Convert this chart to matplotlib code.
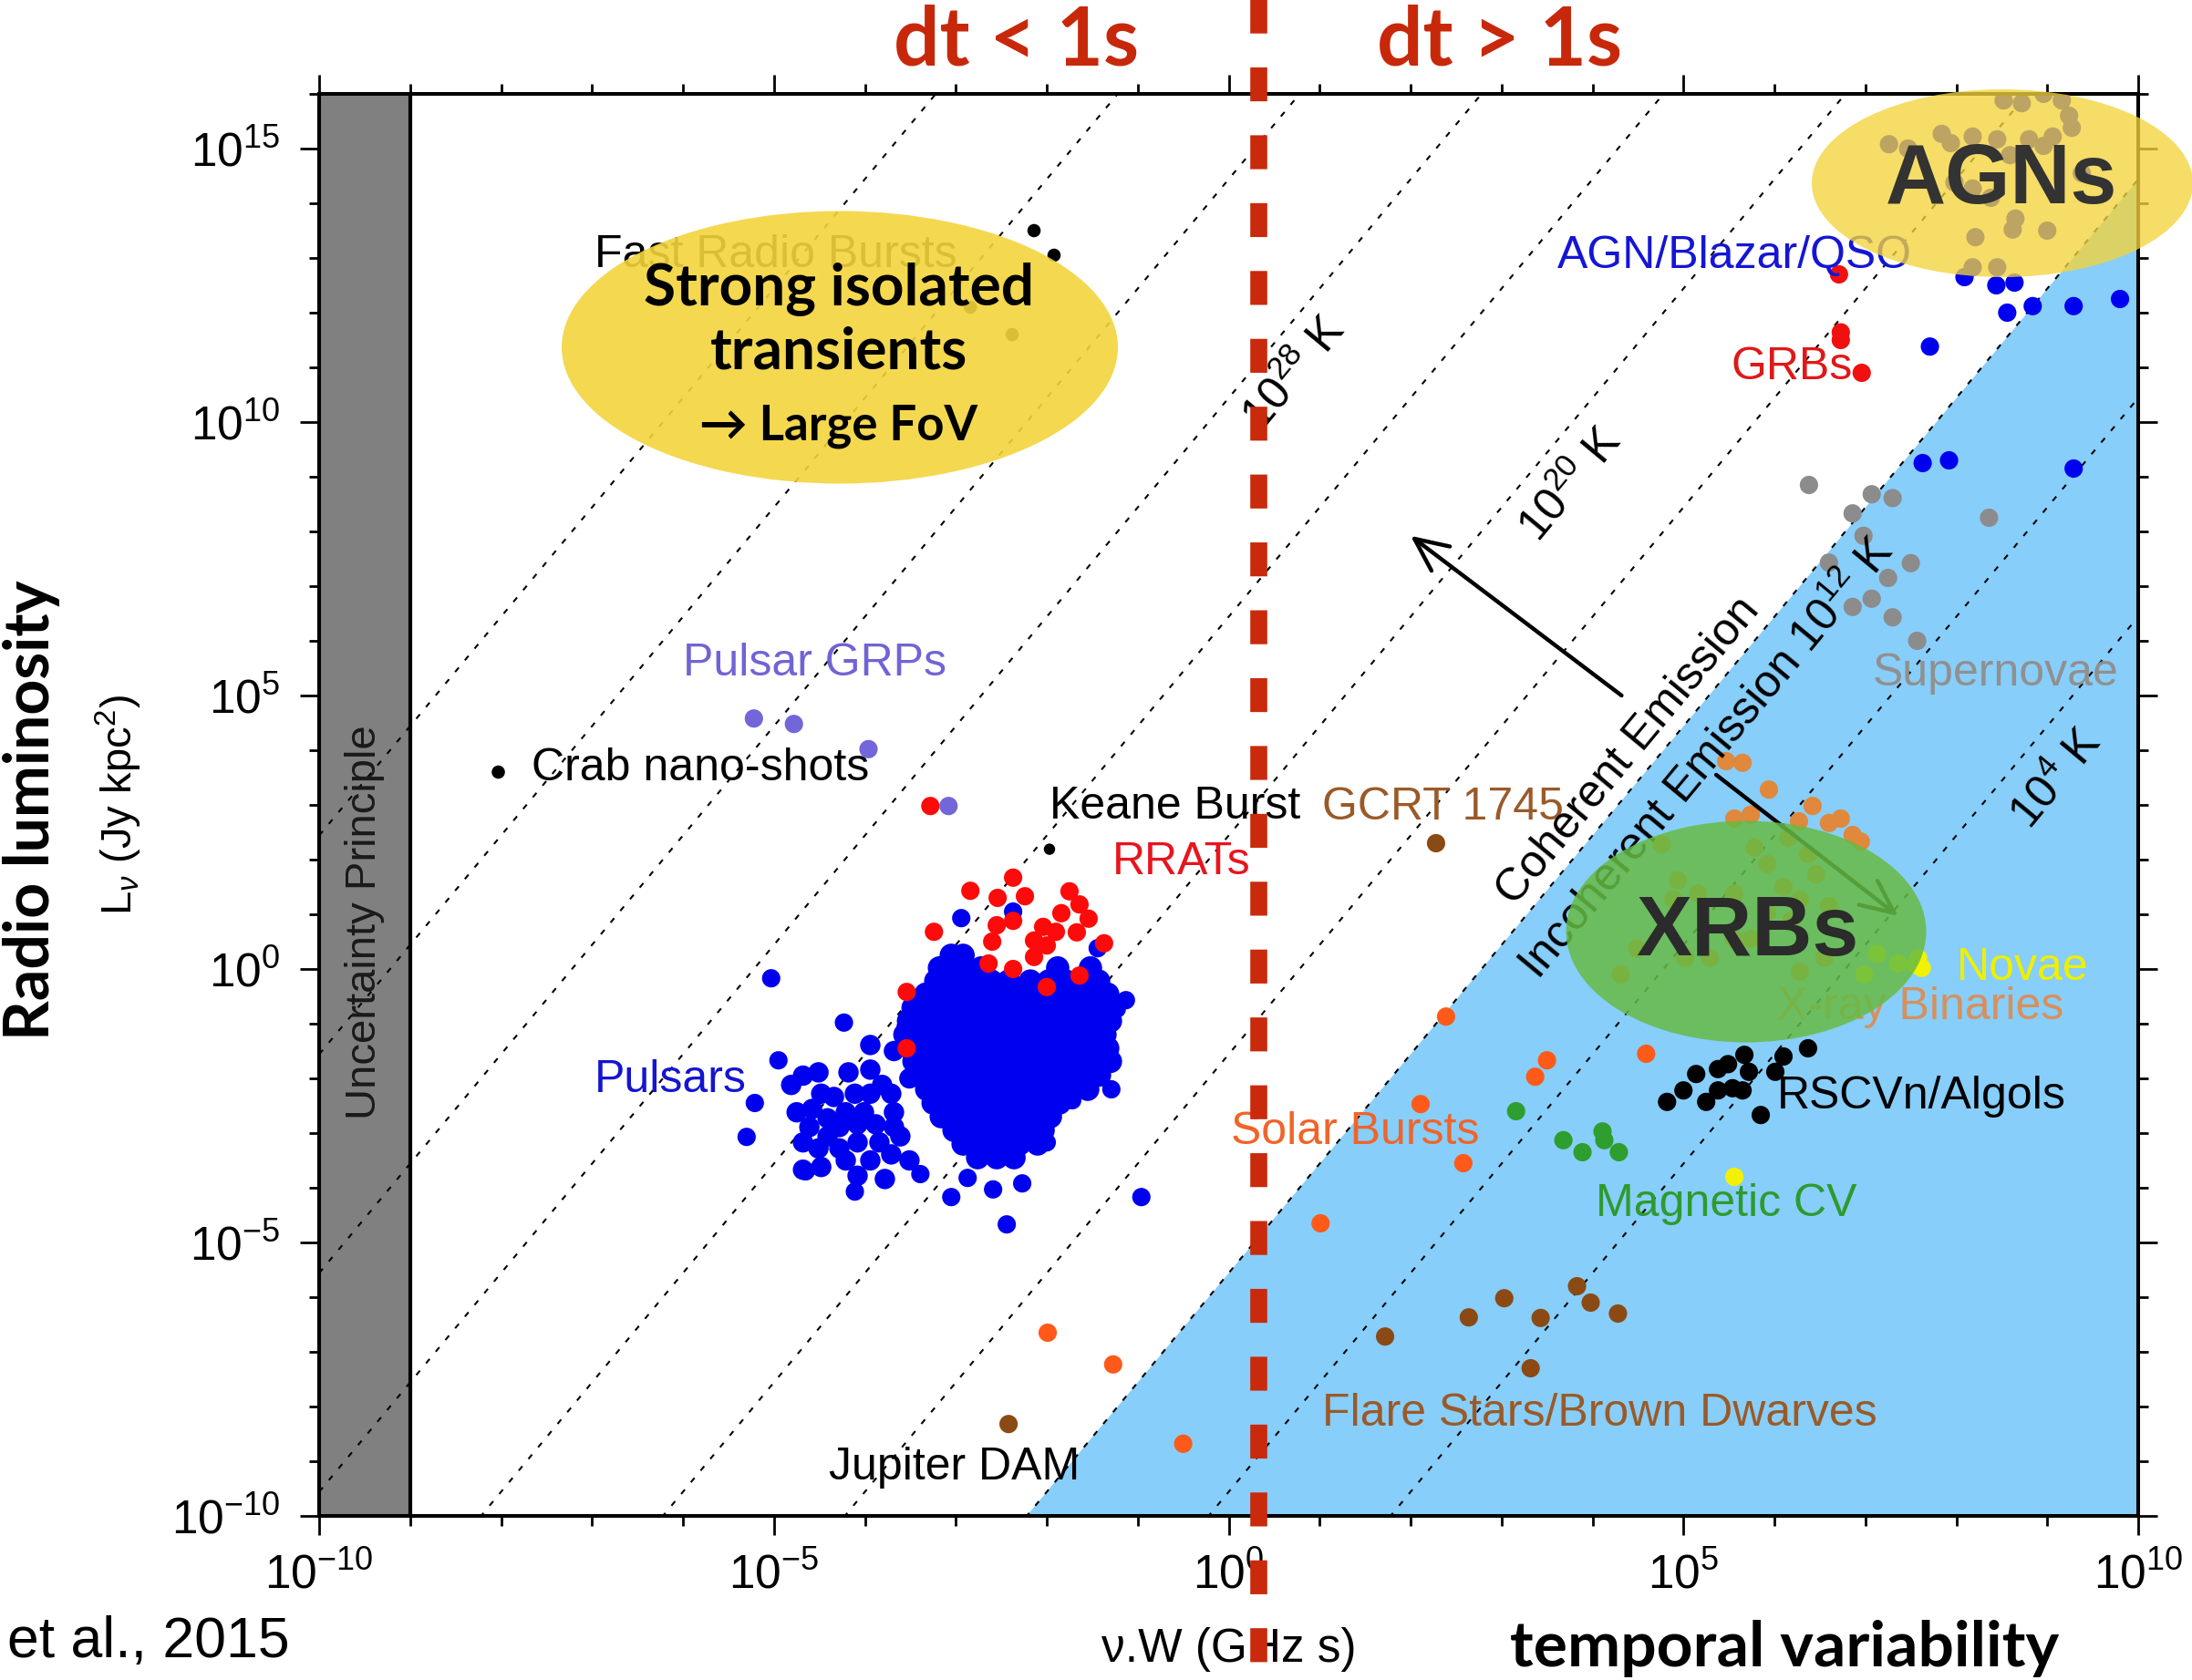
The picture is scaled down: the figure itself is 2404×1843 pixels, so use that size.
import numpy as np
import matplotlib
matplotlib.use("Agg")
import matplotlib.pyplot as plt
from matplotlib.patches import Ellipse
from matplotlib.ticker import NullFormatter

plt.rcParams['font.family'] = ['Liberation Sans', 'DejaVu Sans']
plt.rcParams['mathtext.fontset'] = 'custom'
plt.rcParams['mathtext.rm'] = 'Liberation Sans'
plt.rcParams['mathtext.it'] = 'Liberation Sans:italic'
plt.rcParams['mathtext.bf'] = 'Liberation Sans:bold'

W, H = 2404, 1843

# --- data: (log10 nu*W [GHz s], log10 L [Jy kpc^2]) ---
frb = [(-2.14, 13.5), (-1.92, 13.05), (-2.84, 12.1), (-2.38, 11.6)]
crab = [(-8.03, 3.6)]
keane = [(-1.97, 2.19)]
jupiter = [(-2.42, -8.32)]
gcrt = [(2.28, 2.30)]
grps = [(-5.22, 4.58), (-4.78, 4.48), (-3.96, 4.02), (-3.08, 2.98)]
rrats = [(-2.84, 1.43), (-2.37, 1.67), (-2.54, 1.30), (-2.24, 1.33), (-3.24, 0.68),
         (-1.75, 1.42), (-1.64, 1.18), (-1.84, 1.02), (-1.54, 0.92), (-2.55, 0.80),
         (-2.37, 0.88), (-2.04, 0.77), (-1.90, 0.68), (-2.60, 0.50), (-2.14, 0.52),
         (-2.00, 0.43), (-1.67, 0.67), (-1.37, 0.47), (-2.64, 0.10), (-2.37, 0.00),
         (-2.14, 0.22), (-1.64, -0.12), (-2.00, -0.33), (-3.54, -0.42), (-3.54, -1.45),
         (-3.28, 2.98)]
# dense pulsar core, one row per luminosity level
pulsar_rows = [
    (0.25, [-3.05, -2.92]),
    (0.02, [-3.18, -2.95, -2.72, -1.88, -1.52]),
    (-0.22, [-3.22, -3.02, -2.83, -2.61, -2.42, -2.18, -1.98, -1.79, -1.60, -1.43]),
    (-0.46, [-3.33, -3.12, -2.90, -2.71, -2.50, -2.31, -2.12, -1.90, -1.72, -1.50, -1.33]),
    (-0.71, [-3.47, -3.26, -3.06, -2.86, -2.64, -2.45, -2.24, -2.06, -1.84, -1.65, -1.44, -1.27]),
    (-0.95, [-3.52, -3.31, -3.10, -2.90, -2.70, -2.49, -2.31, -2.10, -1.89, -1.70, -1.49, -1.30]),
    (-1.20, [-3.56, -3.36, -3.14, -2.95, -2.74, -2.56, -2.35, -2.14, -1.96, -1.74, -1.55, -1.36]),
    (-1.45, [-3.50, -3.30, -3.11, -2.90, -2.70, -2.50, -2.31, -2.10, -1.90, -1.71, -1.50, -1.33]),
    (-1.69, [-3.46, -3.24, -3.05, -2.85, -2.66, -2.44, -2.25, -2.05, -1.86, -1.64, -1.45, -1.30]),
    (-1.94, [-3.41, -3.20, -3.00, -2.81, -2.60, -2.40, -2.21, -2.00, -1.80, -1.60, -1.42]),
    (-2.20, [-3.32, -3.10, -2.91, -2.70, -2.51, -2.30, -2.10, -1.90, -1.70, -1.55]),
    (-2.45, [-3.25, -3.05, -2.84, -2.65, -2.45, -2.26, -2.05, -1.86]),
    (-2.70, [-3.16, -2.95, -2.76, -2.55, -2.35, -2.16, -1.96]),
    (-2.95, [-3.02, -2.81, -2.60, -2.41, -2.20, -2.04]),
    (-3.20, [-2.92, -2.70, -2.50, -2.30, -2.10]),
    (-3.45, [-2.76, -2.55, -2.36]),
]
pulsar_tail = [(-4.81, -2.12), (-4.68, -1.95), (-4.51, -1.89), (-4.75, -2.62), (-4.58, -2.56),
               (-4.68, -3.17), (-4.51, -3.28), (-4.28, -2.89), (-4.18, -1.89), (-4.11, -2.28),
               (-3.94, -1.39), (-3.94, -1.84), (-3.81, -2.12), (-3.71, -2.28), (-3.68, -2.62),
               (-3.88, -2.84), (-4.08, -3.17), (-3.71, -3.39), (-3.61, -3.06), (-4.41, -2.73),
               (-4.21, -3.50), (-4.48, -3.62), (-3.94, -3.50), (-4.08, -3.78), (-4.34, -2.34),
               (-3.78, -3.84), (-3.51, -3.50), (-4.68, -3.67), (-4.61, -2.89), (-4.21, -2.62),
               (-4.01, -2.62), (-4.41, -3.06), (-4.28, -3.28), (-3.84, -3.17), (-3.68, -2.89),
               (-4.08, -2.84), (-4.48, -2.28), (-3.94, -2.28), (-3.54, -1.06), (-3.68, -1.50),
               (-3.51, -2.00)]
pulsar_out = [(-5.03, -0.17), (-4.23, -0.98), (-4.95, -1.67), (-5.21, -2.45), (-5.30, -3.07),
              (-2.94, 0.93), (-1.13, -0.57), (-1.23, -0.73), (-1.29, -2.20), (-0.96, -4.17),
              (-2.44, -4.67), (-3.05, -4.17), (-4.11, -4.07), (-4.65, -3.70), (-1.72, -2.40),
              (-2.00, -3.17), (-2.27, -3.92), (-2.59, -4.03), (-2.87, -3.82), (-3.39, -3.75),
              (-1.44, 0.38), (-2.37, 1.05)]
solar = [(-1.99, -6.65), (-1.27, -7.23), (-0.50, -8.68), (1.01, -4.65), (2.11, -2.47),
         (2.39, -0.87), (2.58, -3.55), (3.37, -1.97), (3.50, -1.67), (4.59, -1.55)]
flare = [(1.72, -6.72), (2.64, -6.37), (3.03, -6.02), (3.43, -6.38), (3.83, -5.80),
         (3.98, -6.10), (4.28, -6.30), (3.32, -7.30)]
mcv = [(3.16, -2.60), (3.68, -3.13), (3.89, -3.35), (4.11, -2.97), (4.13, -3.13), (4.29, -3.35)]
novae = [(5.56, -3.80), (7.13, 0.28), (7.36, 0.10), (7.58, 0.20), (7.62, 0.02), (6.99, -0.10),
         (7.55, 0.08)]
xrb = [(5.47, 3.80), (5.65, 3.77), (5.94, 3.28), (6.42, 2.98), (6.73, 2.75), (5.56, 2.75),
       (5.74, 2.82), (6.27, 2.70), (6.60, 2.67), (6.86, 2.45), (6.95, 2.33), (4.76, 2.28),
       (4.94, 1.62), (4.89, 1.27), (5.16, 1.38), (5.78, 2.22), (5.92, 1.92), (6.15, 2.40),
       (6.37, 2.10), (6.46, 1.73), (6.10, 1.50), (6.28, 1.27), (6.60, 1.15), (5.92, 1.03),
       (5.74, 0.55), (5.56, 0.55), (4.49, 0.37), (4.31, -0.10), (5.02, 0.20), (5.29, 0.20),
       (6.28, -0.05), (6.55, 0.20), (6.19, 0.90), (5.56, 1.38)]
rscvn = [(4.82, -2.43), (5.00, -2.22), (5.14, -1.92), (5.25, -2.43), (5.38, -1.83),
         (5.49, -1.74), (5.54, -2.18), (5.67, -1.57), (5.72, -1.88), (5.65, -2.22),
         (5.85, -2.67), (6.01, -1.88), (6.10, -1.60), (6.37, -1.45), (5.38, -2.22)]
supernovae = [(6.38, 8.85), (7.07, 8.68), (7.30, 8.61), (6.86, 8.33), (8.36, 8.25), (6.98, 7.92),
              (7.50, 7.42), (7.25, 7.15), (6.60, 7.43), (6.86, 6.62), (7.07, 6.77), (7.30, 6.43),
              (7.57, 6.00)]
grbs = [(6.71, 12.70), (6.73, 11.64), (6.73, 11.50), (6.96, 10.90)]
agn = [(7.71, 11.38), (8.56, 12.00), (8.84, 12.12), (9.29, 12.12), (8.09, 12.65), (8.44, 12.50),
       (8.64, 12.55), (7.63, 9.25), (7.92, 9.30), (9.29, 9.15), (9.80, 12.25),
       (7.26, 15.08), (7.47, 15.00), (7.84, 15.27), (7.94, 15.10), (8.18, 15.22), (8.45, 15.17),
       (8.52, 15.88), (8.72, 15.83), (8.96, 16.00), (9.16, 15.88), (9.24, 15.60), (9.27, 15.38),
       (9.06, 15.22), (8.80, 15.17), (8.18, 14.27), (8.38, 14.10), (8.65, 13.72), (8.21, 13.38),
       (8.62, 13.52), (9.00, 13.50), (8.18, 12.83), (8.45, 12.83), (9.38, 14.55), (7.98, 14.38),
       (8.59, 14.88), (8.96, 15.05)]

# brightness temperature lines: log L = 2 log(nu W) + log T - 17.56
t_exp = [4, 8, 12, 16, 20, 24, 28, 32, 36, 40]
t_offset = -17.56
coherence_t = 12

x_major = [-10, -5, 0, 5, 10]
y_major = [-10, -5, 0, 5, 10, 15]

fig = plt.figure(figsize=(W / 100, H / 100), dpi=100)
ax = fig.add_axes([350 / W, 1 - 1663 / H, 1995 / W, 1560 / H])
ax.set_xscale('log')
ax.set_yscale('log')
ax.set_xlim(1e-10, 1e10)
ax.set_ylim(1e-10, 1e16)


def P(pts):
    a = np.array(pts, dtype=float)
    return 10 ** a[:, 0], 10 ** a[:, 1]


def dots(pts, color, s=210, z=4):
    x, y = P(pts)
    ax.scatter(x, y, s=s, c=color, edgecolors='none', zorder=z)


# incoherent region and uncertainty band
x0 = (-10 - (coherence_t + t_offset)) / 2
ax.fill([10 ** x0, 1e10, 1e10], [1e-10, 1e-10, 10 ** (20 + coherence_t + t_offset)],
        color='#87CEFA', zorder=0.5, lw=0)
ax.axvspan(1e-10, 1e-9, color='#808080', zorder=0.6, lw=0)
ax.axvline(1e-9, color='black', lw=3, zorder=3)

nuw = np.array([1e-10, 1e10])
for t in t_exp:
    ax.plot(nuw, 10 ** (2 * np.log10(nuw) + t + t_offset), color='black', lw=1.5,
            ls=(0, (3, 5)), zorder=2)

# pulsar core expanded from rows
core = [(x, l) for l, xs in pulsar_rows for x in xs]
dots(core, '#0000F0', s=340)
dots(pulsar_tail, '#0000F0', s=260)
dots(pulsar_out, '#0000F0')
dots(rrats, '#FF0A0A', z=5)
dots(grps, '#7366D9')
dots(frb, 'black', s=110)
dots(crab, 'black', s=110)
dots(keane, 'black', s=80)
dots(jupiter, '#8B4A14')
dots(gcrt, '#8B4A14')
dots(solar, '#FF5A1A')
dots(flare, '#8B4A14')
dots(mcv, '#2E9E2E')
dots(xrb, '#E0883C')
dots(novae, '#F2F200')
dots(rscvn, 'black')
dots(supernovae, '#8C8C8C')
dots(grbs, '#F01010')
dots(agn, '#0000F0')

fs = 36
labels = [
    ("Fast Radio Bursts", -6.97, 13.05, 'black'),
    ("Crab nano-shots", -7.66, 3.67, 'black'),
    ("Pulsar GRPs", -6.0, 5.58, '#7064D4'),
    ("Keane Burst", -1.97, 2.97, 'black'),
    ("RRATs", -1.28, 1.95, '#E8141E'),
    ("Pulsars", -6.97, -2.03, '#1414D2'),
    ("Jupiter DAM", -4.40, -9.12, 'black'),
    ("Solar Bursts", 0.03, -2.98, '#F0642A'),
    ("GCRT 1745", 1.03, 2.95, '#9A5A28'),
    ("Flare Stars/Brown Dwarves", 1.03, -8.13, '#9A5A28'),
    ("Magnetic CV", 4.04, -4.30, '#2E9A2E'),
    ("RSCVn/Algols", 6.03, -2.33, 'black'),
    ("X-ray Binaries", 6.03, -0.70, '#D8905A'),
    ("Novae", 8.0, 0.02, '#EEF000'),
    ("Supernovae", 7.08, 5.40, '#909090'),
    ("GRBs", 5.52, 11.0, '#E01818'),
    ("AGN/Blazar/QSO", 3.61, 13.03, '#1515D5'),
]
for txt, lx, ly, c in labels:
    ax.text(10 ** lx, 10 ** ly, txt, color=c, fontsize=fs, ha='left', va='center', zorder=6)

ax.text(10 ** -9.5, 10 ** 0.85, "Uncertainty Principle", rotation=90, fontsize=34,
        ha='center', va='center', color='#1a1a1a', zorder=6)

ang = 50.3
ax.text(10 ** 0.73, 10 ** 10.88, r"$10^{28}$ K", rotation=ang, rotation_mode='anchor',
        fontsize=fs, ha='center', va='center', zorder=6)
ax.text(10 ** 3.76, 10 ** 8.85, r"$10^{20}$ K", rotation=ang, rotation_mode='anchor',
        fontsize=fs, ha='center', va='center', zorder=6)
ax.text(10 ** 9.11, 10 ** 3.47, r"$10^{4}$ K", rotation=ang, rotation_mode='anchor',
        fontsize=fs, ha='center', va='center', zorder=6)
ax.text(10 ** 4.40, 10 ** 3.98, "Coherent Emission", rotation=ang, rotation_mode='anchor',
        fontsize=fs, ha='center', va='center', zorder=6)
ax.text(10 ** 5.26, 10 ** 3.85, r"Incoherent Emission $10^{12}$ K", rotation=ang,
        rotation_mode='anchor', fontsize=fs, ha='center', va='center', zorder=6)

arrow = dict(arrowstyle='->,head_length=1.3,head_width=0.6', lw=3.2, color='black',
             shrinkA=0, shrinkB=0, mutation_scale=20)
ax.annotate('', xy=(10 ** 2.0, 10 ** 7.92), xytext=(10 ** 4.32, 10 ** 5.0), arrowprops=arrow,
            zorder=6)
ax.annotate('', xy=(10 ** 7.36, 10 ** 0.97), xytext=(10 ** 5.36, 10 ** 3.55), arrowprops=arrow,
            zorder=6)

# axes styling
ax.set_xticks([10.0 ** k for k in x_major], [r'$10^{%d}$' % k for k in x_major])
ax.set_yticks([10.0 ** k for k in y_major], [r'$10^{%d}$' % k for k in y_major])
ax.set_xticks([10.0 ** k for k in range(-10, 11)], minor=True)
ax.set_yticks([10.0 ** k for k in range(-10, 17)], minor=True)
ax.xaxis.set_minor_formatter(NullFormatter())
ax.yaxis.set_minor_formatter(NullFormatter())
ax.tick_params(which='both', direction='out', top=True, right=True, width=2, labelsize=37)
ax.tick_params(which='major', length=15)
ax.tick_params(which='minor', length=8)
ax.tick_params(axis='x', pad=14)
ax.tick_params(axis='y', pad=16)
for sp in ax.spines.values():
    sp.set_linewidth(2.9)
    sp.set_zorder(7)

ax.set_xlabel("ν.W (GHz s)", fontsize=37, va='center')
ax.xaxis.set_label_coords(0.5, -0.094)
ax.set_ylabel(r"L$_\nu$ (Jy kpc$^2$)", fontsize=34, va='center')
ax.yaxis.set_label_coords(-0.110, 0.5)

# dt = 1 s boundary, spanning the whole figure height
ax.plot([10 ** 0.33, 10 ** 0.33], [1.07, -0.12], transform=ax.get_xaxis_transform(),
        clip_on=False, color='#C92A0C', lw=13.4, ls=(0, (2, 2)), solid_capstyle='butt',
        dash_capstyle='butt', zorder=9)


def fx(px):
    return px / W


def fy(py):
    return 1 - py / H


# highlight ellipses
fig.add_artist(Ellipse((fx(921), fy(381)), 610 / W, 299 / H, transform=fig.transFigure,
                       fc='#F3D43C', ec='none', alpha=0.9, zorder=10))
fig.add_artist(Ellipse((fx(2196), fy(201)), 418 / W, 206 / H, transform=fig.transFigure,
                       fc='#F3D43C', ec='none', alpha=0.78, zorder=10))
fig.add_artist(Ellipse((fx(1915), fy(1022)), 395 / W, 243 / H, transform=fig.transFigure,
                       fc='#66BB44', ec='none', alpha=0.85, zorder=10))

bold = ['Lato', 'DejaVu Sans']
fig.text(fx(920), fy(317), "Strong isolated", fontsize=46, fontweight='bold', family=bold,
         ha='center', va='center', zorder=11)
fig.text(fx(920), fy(386), "transients", fontsize=46, fontweight='bold', family=bold,
         ha='center', va='center', zorder=11)
fig.text(fx(920), fy(468), "→ Large FoV", fontsize=38, fontweight='bold', family=bold,
         ha='center', va='center', zorder=11)
fig.text(fx(2195), fy(199), "AGNs", fontsize=66, fontweight='bold', color='#333333',
         ha='center', va='center', zorder=11)
fig.text(fx(1916), fy(1024), "XRBs", fontsize=66, fontweight='bold', color='#2B2B2B',
         ha='center', va='center', zorder=11)

red = '#C8280A'
fig.text(fx(1115), fy(45), "dt < 1s", fontsize=64, fontweight='bold', family=bold,
         color=red, ha='center', va='center')
fig.text(fx(1645), fy(45), "dt > 1s", fontsize=64, fontweight='bold', family=bold,
         color=red, ha='center', va='center')
fig.text(fx(35), fy(889), "Radio luminosity", fontsize=49, fontweight='bold', family=bold,
         rotation=90, ha='center', va='center')
fig.text(fx(1957), fy(1809), "temporal variability", fontsize=50, fontweight='bold',
         family=bold, ha='center', va='center')
fig.text(fx(8), fy(1802), "et al., 2015", fontsize=45, ha='left', va='center')

fig.savefig('out.png', dpi=100)
